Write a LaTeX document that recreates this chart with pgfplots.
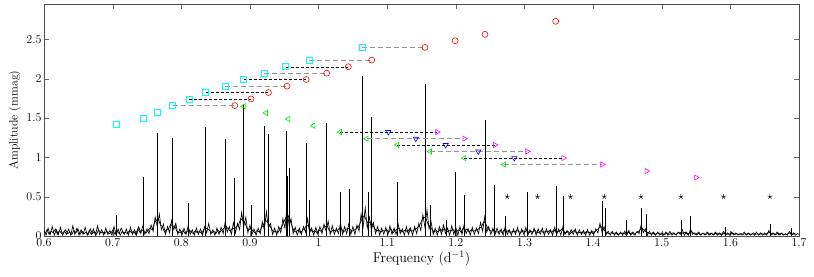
\documentclass[border=0pt]{standalone}
\usepackage{pgfplots}
\pgfplotsset{compat=1.18}
\definecolor{mcyan}{RGB}{0,255,255}
\definecolor{mred}{RGB}{255,0,0}
\definecolor{mgreen}{RGB}{0,230,0}
\definecolor{mblue}{RGB}{0,0,255}
\definecolor{mmag}{RGB}{255,0,255}
\definecolor{mgray}{RGB}{150,150,150}
\begin{document}
\begin{tikzpicture}
\begin{axis}[
  width=755pt, height=232pt, scale only axis,
  xmin=0.6, xmax=1.7, ymin=0, ymax=2.95,
  xtick={0.6,0.7,0.8,0.9,1,1.1,1.2,1.3,1.4,1.5,1.6,1.7},
  ytick={0,0.5,1,1.5,2,2.5},
  tick align=inside, major tick length=5pt,
  axis line style={black!70}, tick style={black!60},
  tick label style={font=\fontsize{12}{14}\selectfont},
  xticklabel style={yshift=1pt},
  yticklabel style={xshift=1pt},
  xlabel style={font=\fontsize{14}{16}\selectfont, yshift=2pt},
  ylabel style={font=\fontsize{12}{14}\selectfont, yshift=-1pt},
  xlabel={Frequency (d$^{-1}$)}, ylabel={Amplitude (mmag)},
]
% noise floor of the periodogram (two interleaved sample sets)
\addplot[black, line width=0.65pt] coordinates {
(0.600,0.07)(0.603,0.01)(0.606,0.10)(0.609,0.02)(0.612,0.12)(0.615,0.01)(0.618,0.08)(0.621,0.02)(0.624,0.11)(0.627,0.01)
(0.630,0.06)(0.633,0.02)(0.636,0.09)(0.639,0.01)(0.642,0.13)(0.645,0.02)(0.648,0.10)(0.651,0.01)(0.654,0.08)(0.657,0.02)
(0.660,0.11)(0.663,0.01)(0.666,0.07)(0.669,0.02)(0.672,0.09)(0.675,0.01)(0.678,0.13)(0.681,0.02)(0.684,0.08)(0.687,0.01)
(0.690,0.10)(0.693,0.02)(0.696,0.07)(0.699,0.01)(0.702,0.12)(0.705,0.02)(0.708,0.09)(0.711,0.01)(0.714,0.06)(0.717,0.02)
(0.720,0.09)(0.723,0.01)(0.726,0.11)(0.729,0.02)(0.732,0.08)(0.735,0.01)(0.738,0.12)(0.741,0.03)(0.744,0.13)(0.747,0.02)
(0.750,0.09)(0.753,0.03)(0.756,0.14)(0.759,0.06)(0.762,0.24)(0.765,0.12)(0.768,0.28)(0.771,0.08)(0.774,0.15)(0.777,0.02)
(0.780,0.12)(0.783,0.04)(0.786,0.20)(0.789,0.08)(0.792,0.16)(0.795,0.02)(0.798,0.09)(0.801,0.01)(0.804,0.10)(0.807,0.02)
(0.810,0.13)(0.813,0.02)(0.816,0.08)(0.819,0.01)(0.822,0.10)(0.825,0.02)(0.828,0.09)(0.831,0.01)(0.834,0.12)(0.837,0.04)
(0.840,0.16)(0.843,0.02)(0.846,0.08)(0.849,0.01)(0.852,0.10)(0.855,0.02)(0.858,0.11)(0.861,0.03)(0.864,0.18)(0.867,0.05)
(0.870,0.12)(0.873,0.02)(0.876,0.17)(0.879,0.04)(0.882,0.16)(0.885,0.08)(0.888,0.30)(0.891,0.12)(0.894,0.24)(0.897,0.04)
(0.900,0.14)(0.903,0.02)(0.906,0.09)(0.909,0.01)(0.912,0.10)(0.915,0.03)(0.918,0.18)(0.921,0.08)(0.924,0.31)(0.927,0.10)
(0.930,0.16)(0.933,0.02)(0.936,0.10)(0.939,0.01)(0.942,0.12)(0.945,0.04)(0.948,0.22)(0.951,0.10)(0.954,0.36)(0.957,0.14)
(0.960,0.22)(0.963,0.03)(0.966,0.11)(0.969,0.01)(0.972,0.10)(0.975,0.02)(0.978,0.12)(0.981,0.05)(0.984,0.22)(0.987,0.04)
(0.990,0.10)(0.993,0.01)(0.996,0.11)(0.999,0.02)(1.002,0.12)(1.005,0.03)(1.008,0.15)(1.011,0.06)(1.014,0.19)(1.017,0.02)
(1.020,0.13)(1.023,0.02)(1.026,0.10)(1.029,0.03)(1.032,0.16)(1.035,0.02)(1.038,0.12)(1.041,0.03)(1.044,0.15)(1.047,0.02)
(1.050,0.12)(1.053,0.02)(1.056,0.14)(1.059,0.06)(1.062,0.28)(1.065,0.12)(1.068,0.36)(1.071,0.10)(1.074,0.24)(1.077,0.08)
(1.080,0.17)(1.083,0.03)(1.086,0.12)(1.089,0.01)(1.092,0.10)(1.095,0.02)(1.098,0.11)(1.101,0.01)(1.104,0.13)(1.107,0.02)
(1.110,0.10)(1.113,0.02)(1.116,0.15)(1.119,0.03)(1.122,0.09)(1.125,0.01)(1.128,0.12)(1.131,0.02)(1.134,0.10)(1.137,0.01)
(1.140,0.12)(1.143,0.03)(1.146,0.16)(1.149,0.07)(1.152,0.27)(1.155,0.11)(1.158,0.33)(1.161,0.09)(1.164,0.18)(1.167,0.02)
(1.170,0.10)(1.173,0.01)(1.176,0.12)(1.179,0.02)(1.182,0.14)(1.185,0.03)(1.188,0.10)(1.191,0.01)(1.194,0.13)(1.197,0.02)
(1.200,0.11)(1.203,0.01)(1.206,0.12)(1.209,0.02)(1.212,0.14)(1.215,0.03)(1.218,0.09)(1.221,0.01)(1.224,0.11)(1.227,0.02)
(1.230,0.10)(1.233,0.03)(1.236,0.17)(1.239,0.06)(1.242,0.24)(1.245,0.05)(1.248,0.12)(1.251,0.02)(1.254,0.10)(1.257,0.01)
(1.260,0.10)(1.263,0.02)(1.266,0.09)(1.269,0.01)(1.272,0.12)(1.275,0.02)(1.278,0.08)(1.281,0.01)(1.284,0.09)(1.287,0.02)
(1.290,0.11)(1.293,0.01)(1.296,0.09)(1.299,0.02)(1.302,0.11)(1.305,0.01)(1.308,0.08)(1.311,0.02)(1.314,0.10)(1.317,0.01)
(1.320,0.09)(1.323,0.02)(1.326,0.10)(1.329,0.01)(1.332,0.09)(1.335,0.02)(1.338,0.08)(1.341,0.01)(1.344,0.11)(1.347,0.02)
(1.350,0.09)(1.353,0.01)(1.356,0.12)(1.359,0.02)(1.362,0.07)(1.365,0.01)(1.368,0.08)(1.371,0.02)(1.374,0.09)(1.377,0.01)
(1.380,0.08)(1.383,0.02)(1.386,0.07)(1.389,0.01)(1.392,0.08)(1.395,0.01)(1.398,0.07)(1.401,0.02)(1.404,0.09)(1.407,0.04)
(1.410,0.16)(1.413,0.05)(1.416,0.12)(1.419,0.02)(1.422,0.06)(1.425,0.01)(1.428,0.06)(1.431,0.01)(1.434,0.05)(1.437,0.01)
(1.440,0.05)(1.443,0.01)(1.446,0.06)(1.449,0.01)(1.452,0.07)(1.455,0.01)(1.458,0.05)(1.461,0.01)(1.464,0.06)(1.467,0.03)
(1.470,0.14)(1.473,0.04)(1.476,0.09)(1.479,0.01)(1.482,0.06)(1.485,0.01)(1.488,0.05)(1.491,0.01)(1.494,0.05)(1.497,0.01)
(1.500,0.04)(1.503,0.01)(1.506,0.05)(1.509,0.01)(1.512,0.06)(1.515,0.01)(1.518,0.04)(1.521,0.01)(1.524,0.05)(1.527,0.02)
(1.530,0.08)(1.533,0.01)(1.536,0.05)(1.539,0.01)(1.542,0.09)(1.545,0.02)(1.548,0.04)(1.551,0.01)(1.554,0.05)(1.557,0.01)
(1.560,0.04)(1.563,0.01)(1.566,0.05)(1.569,0.01)(1.572,0.04)(1.575,0.01)(1.578,0.05)(1.581,0.01)(1.584,0.04)(1.587,0.01)
(1.590,0.06)(1.593,0.01)(1.596,0.04)(1.599,0.01)(1.602,0.05)(1.605,0.01)(1.608,0.04)(1.611,0.01)(1.614,0.03)(1.617,0.01)
(1.620,0.05)(1.623,0.01)(1.626,0.04)(1.629,0.01)(1.632,0.03)(1.635,0.01)(1.638,0.05)(1.641,0.01)(1.644,0.04)(1.647,0.01)
(1.650,0.04)(1.653,0.01)(1.656,0.07)(1.659,0.01)(1.662,0.04)(1.665,0.01)(1.668,0.05)(1.671,0.01)(1.674,0.04)(1.677,0.01)
(1.680,0.03)(1.683,0.01)(1.686,0.06)(1.689,0.01)(1.692,0.04)(1.695,0.01)(1.698,0.03)(1.700,0.02)
};
\addplot[black, line width=0.65pt] coordinates {
(0.6015,0.03)(0.6045,0.08)(0.6075,0.02)(0.6105,0.06)(0.6135,0.04)(0.6165,0.09)(0.6195,0.02)(0.6225,0.07)(0.6255,0.03)(0.6285,0.05)
(0.6315,0.08)(0.6345,0.03)(0.6375,0.05)(0.6405,0.02)(0.6435,0.07)(0.6465,0.04)(0.6495,0.09)(0.6525,0.02)(0.6555,0.06)(0.6585,0.03)
(0.6615,0.05)(0.6645,0.02)(0.6675,0.09)(0.6705,0.03)(0.6735,0.06)(0.6765,0.02)(0.6795,0.08)(0.6825,0.04)(0.6855,0.05)(0.6885,0.03)
(0.6915,0.06)(0.6945,0.03)(0.6975,0.04)(0.7005,0.08)(0.7035,0.02)(0.7065,0.06)(0.7095,0.03)(0.7125,0.10)(0.7155,0.04)(0.7185,0.05)
(0.7215,0.03)(0.7245,0.07)(0.7275,0.04)(0.7305,0.06)(0.7335,0.02)(0.7365,0.09)(0.7395,0.05)(0.7425,0.08)(0.7455,0.06)(0.7485,0.04)
(0.7515,0.07)(0.7545,0.10)(0.7575,0.08)(0.7605,0.16)(0.7635,0.20)(0.7665,0.22)(0.7695,0.14)(0.7725,0.12)(0.7755,0.05)(0.7785,0.08)
(0.7815,0.09)(0.7845,0.15)(0.7875,0.12)(0.7905,0.13)(0.7935,0.06)(0.7965,0.05)(0.7995,0.04)(0.8025,0.07)(0.8055,0.03)(0.8085,0.06)
(0.8115,0.08)(0.8145,0.05)(0.8175,0.03)(0.8205,0.07)(0.8235,0.04)(0.8265,0.06)(0.8295,0.03)(0.8325,0.08)(0.8355,0.10)(0.8385,0.09)
(0.8415,0.07)(0.8445,0.04)(0.8475,0.06)(0.8505,0.03)(0.8535,0.07)(0.8565,0.05)(0.8595,0.08)(0.8625,0.10)(0.8655,0.12)(0.8685,0.09)
(0.8715,0.06)(0.8745,0.10)(0.8775,0.09)(0.8805,0.12)(0.8835,0.14)(0.8865,0.22)(0.8895,0.20)(0.8925,0.18)(0.8955,0.10)(0.8985,0.08)
(0.9015,0.10)(0.9045,0.06)(0.9075,0.04)(0.9105,0.07)(0.9135,0.05)(0.9165,0.10)(0.9195,0.14)(0.9225,0.20)(0.9255,0.18)(0.9285,0.14)
(0.9315,0.09)(0.9345,0.05)(0.9375,0.06)(0.9405,0.04)(0.9435,0.08)(0.9465,0.12)(0.9495,0.18)(0.9525,0.24)(0.9555,0.26)(0.9585,0.20)
(0.9615,0.12)(0.9645,0.06)(0.9675,0.05)(0.9705,0.08)(0.9735,0.04)(0.9765,0.07)(0.9795,0.09)(0.9825,0.14)(0.9855,0.12)(0.9885,0.08)
(0.9915,0.05)(0.9945,0.07)(0.9975,0.04)(1.0005,0.08)(1.0035,0.06)(1.0065,0.10)(1.0095,0.12)(1.0125,0.13)(1.0155,0.07)(1.0185,0.05)
(1.0215,0.08)(1.0245,0.06)(1.0275,0.07)(1.0305,0.10)(1.0335,0.09)(1.0365,0.05)(1.0395,0.08)(1.0425,0.10)(1.0455,0.09)(1.0485,0.06)
(1.0515,0.07)(1.0545,0.09)(1.0575,0.11)(1.0605,0.16)(1.0635,0.22)(1.0665,0.26)(1.0695,0.20)(1.0725,0.16)(1.0755,0.18)(1.0785,0.15)
(1.0815,0.10)(1.0845,0.06)(1.0875,0.08)(1.0905,0.05)(1.0935,0.07)(1.0965,0.06)(1.0995,0.08)(1.1025,0.05)(1.1055,0.09)(1.1085,0.04)
(1.1115,0.07)(1.1145,0.09)(1.1175,0.10)(1.1205,0.05)(1.1235,0.06)(1.1265,0.08)(1.1295,0.05)(1.1325,0.09)(1.1355,0.06)(1.1385,0.07)
(1.1415,0.09)(1.1445,0.11)(1.1475,0.14)(1.1505,0.20)(1.1535,0.24)(1.1565,0.22)(1.1595,0.15)(1.1625,0.12)(1.1655,0.08)(1.1685,0.05)
(1.1715,0.07)(1.1745,0.05)(1.1775,0.09)(1.1805,0.06)(1.1835,0.10)(1.1865,0.05)(1.1895,0.07)(1.1925,0.06)(1.1955,0.09)(1.1985,0.05)
(1.2015,0.06)(1.2045,0.08)(1.2075,0.05)(1.2105,0.10)(1.2135,0.07)(1.2165,0.09)(1.2195,0.05)(1.2225,0.08)(1.2255,0.06)(1.2285,0.07)
(1.2315,0.08)(1.2345,0.10)(1.2375,0.12)(1.2405,0.18)(1.2435,0.16)(1.2465,0.10)(1.2495,0.07)(1.2525,0.06)(1.2555,0.08)(1.2585,0.05)
(1.2615,0.05)(1.2645,0.07)(1.2675,0.04)(1.2705,0.08)(1.2735,0.05)(1.2765,0.07)(1.2795,0.04)(1.2825,0.06)(1.2855,0.05)(1.2885,0.07)
(1.2915,0.06)(1.2945,0.04)(1.2975,0.07)(1.3005,0.05)(1.3035,0.08)(1.3065,0.04)(1.3095,0.06)(1.3125,0.05)(1.3155,0.07)(1.3185,0.04)
(1.3215,0.05)(1.3245,0.07)(1.3275,0.04)(1.3305,0.06)(1.3335,0.05)(1.3365,0.07)(1.3395,0.04)(1.3425,0.08)(1.3455,0.05)(1.3485,0.06)
(1.3515,0.06)(1.3545,0.09)(1.3575,0.05)(1.3605,0.04)(1.3635,0.06)(1.3665,0.03)(1.3695,0.05)(1.3725,0.07)(1.3755,0.04)(1.3785,0.05)
(1.3815,0.04)(1.3845,0.05)(1.3875,0.03)(1.3905,0.06)(1.3935,0.04)(1.3965,0.05)(1.3995,0.03)(1.4025,0.05)(1.4055,0.08)(1.4085,0.10)
(1.4115,0.12)(1.4145,0.09)(1.4175,0.06)(1.4205,0.04)(1.4235,0.03)(1.4265,0.04)(1.4295,0.03)(1.4325,0.04)(1.4355,0.02)(1.4385,0.03)
(1.4415,0.03)(1.4445,0.04)(1.4475,0.02)(1.4505,0.05)(1.4535,0.03)(1.4565,0.04)(1.4595,0.02)(1.4625,0.04)(1.4655,0.05)(1.4685,0.08)
(1.4715,0.10)(1.4745,0.07)(1.4775,0.05)(1.4805,0.04)(1.4835,0.03)(1.4865,0.04)(1.4895,0.02)(1.4925,0.03)(1.4955,0.04)(1.4985,0.02)
(1.5015,0.03)(1.5045,0.02)(1.5075,0.04)(1.5105,0.02)(1.5135,0.03)(1.5165,0.04)(1.5195,0.02)(1.5225,0.03)(1.5255,0.04)(1.5285,0.05)
(1.5315,0.03)(1.5345,0.05)(1.5375,0.02)(1.5405,0.04)(1.5435,0.06)(1.5465,0.03)(1.5495,0.02)(1.5525,0.04)(1.5555,0.02)(1.5585,0.03)
(1.5615,0.03)(1.5645,0.02)(1.5675,0.04)(1.5705,0.02)(1.5735,0.03)(1.5765,0.02)(1.5795,0.04)(1.5825,0.02)(1.5855,0.03)(1.5885,0.02)
(1.5915,0.04)(1.5945,0.02)(1.5975,0.03)(1.6005,0.02)(1.6035,0.04)(1.6065,0.02)(1.6095,0.03)(1.6125,0.02)(1.6155,0.03)(1.6185,0.02)
(1.6215,0.03)(1.6245,0.02)(1.6275,0.03)(1.6305,0.02)(1.6335,0.04)(1.6365,0.02)(1.6395,0.03)(1.6425,0.02)(1.6455,0.03)(1.6485,0.02)
(1.6515,0.02)(1.6545,0.04)(1.6575,0.05)(1.6605,0.02)(1.6635,0.03)(1.6665,0.02)(1.6695,0.04)(1.6725,0.02)(1.6755,0.03)(1.6785,0.02)
(1.6815,0.02)(1.6845,0.03)(1.6875,0.04)(1.6905,0.02)(1.6935,0.03)(1.6965,0.02)
};
% sharp peaks
\addplot[ycomb, black, line width=0.7pt, mark=none] coordinates {
(0.706,0.27)(0.7447,0.75)(0.7656,1.31)(0.7875,1.24)(0.8108,0.42)(0.8355,1.39)
(0.8637,1.23)(0.878,0.74)(0.891,1.68)(0.9016,0.40)(0.9205,1.40)(0.927,1.30)
(0.9526,1.34)(0.9545,0.76)(0.957,0.86)(0.9817,1.18)(0.9866,0.46)(1.0118,1.44)
(1.0312,0.565)(1.0444,0.60)(1.0637,2.04)(1.072,0.565)(1.0774,1.51)(1.1153,0.69)
(1.155,1.93)(1.1624,0.40)(1.186,0.20)(1.1998,0.81)(1.2127,0.52)(1.2425,1.47)
(1.2566,0.65)(1.2716,0.25)(1.3037,0.565)(1.3459,0.64)(1.3566,0.51)(1.4134,0.44)
(1.4173,0.35)(1.449,0.20)(1.4707,0.36)(1.4775,0.28)(1.5285,0.20)(1.5416,0.26)
(1.593,0.12)(1.658,0.15)(1.689,0.10)
};
% dashed connectors, upper group
\addplot[mgray, line width=0.9pt, dash pattern=on 5pt off 3pt] coordinates {(0.7875,1.658)(0.878,1.658)};
\addplot[black, line width=0.5pt, dash pattern=on 3pt off 2pt] coordinates {(0.8117,1.743)(0.9016,1.743)};
\addplot[black, line width=0.5pt, dash pattern=on 3pt off 2pt] coordinates {(0.8355,1.824)(0.927,1.824)};
\addplot[mgray, line width=0.9pt, dash pattern=on 5pt off 3pt] coordinates {(0.8637,1.905)(0.954,1.905)};
\addplot[black, line width=0.5pt, dash pattern=on 3pt off 2pt] coordinates {(0.891,1.990)(0.982,1.990)};
\addplot[mgray, line width=0.9pt, dash pattern=on 5pt off 3pt] coordinates {(0.921,2.070)(1.0118,2.070)};
\addplot[black, line width=0.5pt, dash pattern=on 3pt off 2pt] coordinates {(0.952,2.152)(1.0434,2.152)};
\addplot[mgray, line width=0.9pt, dash pattern=on 5pt off 3pt] coordinates {(0.9865,2.236)(1.0774,2.236)};
\addplot[mgray, line width=0.9pt, dash pattern=on 5pt off 3pt] coordinates {(1.0637,2.398)(1.155,2.398)};
% dashed connectors, lower group
\addplot[black, line width=0.5pt, dash pattern=on 3pt off 2pt] coordinates {(1.0312,1.322)(1.173,1.322)};
\addplot[mgray, line width=0.9pt, dash pattern=on 5pt off 3pt] coordinates {(1.070,1.237)(1.2124,1.237)};
\addplot[black, line width=0.5pt, dash pattern=on 3pt off 2pt] coordinates {(1.1147,1.157)(1.257,1.157)};
\addplot[mgray, line width=0.9pt, dash pattern=on 5pt off 3pt] coordinates {(1.1624,1.075)(1.304,1.075)};
\addplot[black, line width=0.5pt, dash pattern=on 3pt off 2pt] coordinates {(1.2124,0.991)(1.3566,0.991)};
\addplot[mgray, line width=0.9pt, dash pattern=on 5pt off 3pt] coordinates {(1.2705,0.909)(1.4134,0.909)};
% markers
\addplot[only marks, mred, mark=o, mark size=3pt, mark options={line width=0.6pt}] coordinates {
(0.878,1.658)(0.9016,1.743)(0.927,1.824)(0.954,1.905)(0.982,1.990)(1.0118,2.070)
(1.0434,2.152)(1.0774,2.236)(1.155,2.398)(1.199,2.483)(1.2425,2.564)(1.3455,2.730)
};
\addplot[only marks, mgreen, mark=triangle, mark size=3pt, mark options={line width=0.6pt, rotate=90}] coordinates {
(0.891,1.650)(0.9234,1.565)(0.956,1.488)(0.9924,1.403)(1.0312,1.322)(1.070,1.237)
(1.1147,1.157)(1.1624,1.075)(1.2124,0.991)(1.2705,0.909)
};
\addplot[only marks, mblue, mark=triangle, mark size=3pt, mark options={line width=0.6pt, rotate=180}] coordinates {
(1.1016,1.322)(1.1417,1.237)(1.1852,1.157)(1.2327,1.075)(1.2852,0.991)
};
\addplot[only marks, mmag, mark=triangle, mark size=3pt, mark options={line width=0.6pt, rotate=-90}] coordinates {
(1.173,1.322)(1.2124,1.237)(1.257,1.157)(1.304,1.075)(1.3566,0.991)(1.4134,0.909)
(1.478,0.825)(1.550,0.744)
};
\addplot[only marks, black, mark=star, mark size=2.5pt, mark options={line width=0.5pt}] coordinates {
(1.275,0.5)(1.319,0.5)(1.367,0.5)(1.4163,0.5)(1.4697,0.5)(1.528,0.5)(1.590,0.5)(1.6577,0.5)
};
\addplot[only marks, mcyan, mark=square, mark size=3pt, mark options={line width=0.6pt}] coordinates {
(1.0637,2.398)(0.9865,2.236)(0.952,2.152)(0.921,2.070)(0.891,1.990)(0.8637,1.905)
(0.8355,1.824)(0.8117,1.743)(0.7875,1.658)(0.765,1.578)(0.7447,1.496)
};
\addplot[only marks, mark=square, mark size=3pt, mark options={draw=mcyan, line width=0.7pt}] coordinates {
(0.7048,1.416)
};
\end{axis}
\pgfresetboundingbox
\path[use as bounding box] ([xshift=-44pt,yshift=-41pt]current axis.south west) rectangle ([xshift=15pt,yshift=4pt]current axis.north east);
\end{tikzpicture}
\end{document}
